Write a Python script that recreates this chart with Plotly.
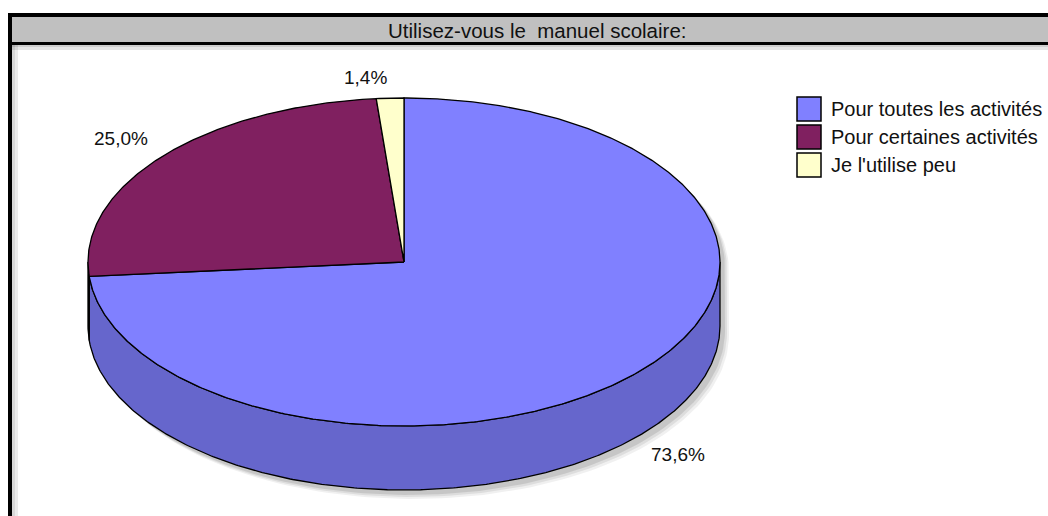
import numpy as np
import plotly.graph_objects as go

# ---- data ----
title_text = "Utilisez-vous le  manuel scolaire:"
categories = ["Pour toutes les activités", "Pour certaines activités", "Je l'utilise peu"]
values = [73.6, 25.0, 1.4]
labels = ["73,6%", "25,0%", "1,4%"]

# ---- style ----
top_colors = ["#8080FF", "#802060", "#FFFFCC"]
side_colors = ["#6666CC", "#661A4D", "#CCCCA3"]
W, H = 1048, 516
cx, cy, rx, ry, depth = 404, 262, 316, 164, 64
FONT = "Liberation Sans, Arial, sans-serif"

fig = go.Figure()


def pt(a_deg, dy=0.0):
    a = np.radians(a_deg)
    return cx + rx * np.cos(a), cy - ry * np.sin(a) + dy


fr = np.array(values) / sum(values)
cum = np.concatenate([[0], np.cumsum(fr)])
a0s = 90 - cum[:-1] * 360
a1s = 90 - cum[1:] * 360

# soft shadow
for off, op in [(9, 0.06), (7, 0.08), (5, 0.10)]:
    t = np.linspace(-180, 0, 120)
    xs, ys = pt(t, depth)
    tt = np.linspace(0, 180, 120)
    xt, yt = pt(tt)
    X = np.concatenate([xs, xt]) + off
    Y = np.concatenate([ys, yt]) + off
    fig.add_trace(go.Scatter(x=X, y=Y, fill="toself", mode="lines",
                             line=dict(width=0), fillcolor=f"rgba(0,0,0,{op})",
                             hoverinfo="skip", showlegend=False))

# side faces (front half: angles in [-180, 0] mod 360)
for i in range(len(values)):
    lo, hi = a1s[i], a0s[i]
    for k in range(-2, 2):
        s, e = max(lo, -180 + 360 * k), min(hi, 0 + 360 * k)
        if e - s <= 1e-6:
            continue
        t = np.linspace(s, e, max(int((e - s) * 2), 4))
        xt, yt = pt(t)
        xb, yb = pt(t[::-1], depth)
        X = np.concatenate([xt, xb, xt[:1]])
        Y = np.concatenate([yt, yb, yt[:1]])
        fig.add_trace(go.Scatter(x=X, y=Y, fill="toself", mode="lines",
                                 fillcolor=side_colors[i],
                                 line=dict(color="black", width=1.3),
                                 hoverinfo="skip", showlegend=False))

# top faces
for i in range(len(values)):
    t = np.linspace(a0s[i], a1s[i], max(int(abs(a0s[i] - a1s[i]) * 2), 4))
    xa, ya = pt(t)
    X = np.concatenate([[cx], xa, [cx]])
    Y = np.concatenate([[cy], ya, [cy]])
    fig.add_trace(go.Scatter(x=X, y=Y, fill="toself", mode="lines",
                             fillcolor=top_colors[i],
                             line=dict(color="black", width=1.3),
                             name=categories[i], hoverinfo="name", showlegend=False))

# percentage labels
for i in range(len(values)):
    am = (a0s[i] + a1s[i]) / 2
    c, s = np.cos(np.radians(am)), np.sin(np.radians(am))
    k = 1.05
    x = cx + rx * k * c
    y = cy - ry * k * s + (depth if s < 0 else 0)
    xa = "right" if c < -0.02 else ("left" if c > 0.02 else "center")
    ya = "bottom" if s > 0 else "top"
    fig.add_annotation(x=x, y=y, text=labels[i], showarrow=False,
                       xanchor=xa, yanchor=ya,
                       font=dict(family=FONT, size=19, color="#111111"))

# legend
lx, ly0, ldy = 809, 109, 28
for i, cat in enumerate(categories):
    fig.add_trace(go.Scatter(x=[lx], y=[ly0 + i * ldy], mode="markers",
                             marker=dict(symbol="square", size=24, color=top_colors[i],
                                         line=dict(color="black", width=1.5)),
                             hoverinfo="skip", showlegend=False))
    fig.add_annotation(x=829, y=ly0 + i * ldy, text=cat, showarrow=False,
                       xanchor="left", yanchor="middle",
                       font=dict(family=FONT, size=20, color="#111111"))

# frame & title bar
shapes = [
    dict(type="rect", x0=12, x1=W, y0=45, y1=50, fillcolor="rgba(0,0,0,0.10)", line=dict(width=0), layer="below"),
    dict(type="rect", x0=12, x1=W, y0=45, y1=47, fillcolor="rgba(0,0,0,0.10)", line=dict(width=0), layer="below"),
    dict(type="rect", x0=12, x1=18, y0=45, y1=H, fillcolor="rgba(0,0,0,0.08)", line=dict(width=0), layer="below"),
    dict(type="rect", x0=12, x1=15, y0=45, y1=H, fillcolor="rgba(0,0,0,0.08)", line=dict(width=0), layer="below"),
    dict(type="rect", x0=12, x1=W, y0=17, y1=42, fillcolor="#C0C0C0", line=dict(width=0), layer="above"),
    dict(type="rect", x0=8, x1=W, y0=13, y1=17, fillcolor="black", line=dict(width=0), layer="above"),
    dict(type="rect", x0=12, x1=W, y0=42, y1=45, fillcolor="black", line=dict(width=0), layer="above"),
    dict(type="rect", x0=8, x1=12, y0=13, y1=H, fillcolor="black", line=dict(width=0), layer="above"),
]
for sh in shapes:
    sh.update(xref="x", yref="y")
fig.update_layout(shapes=shapes)

fig.add_annotation(x=537, y=30, text=title_text, showarrow=False,
                   xanchor="center", yanchor="middle",
                   font=dict(family=FONT, size=20.5, color="#111111"))

fig.update_layout(
    width=W, height=H,
    margin=dict(l=0, r=0, t=0, b=0),
    paper_bgcolor="white", plot_bgcolor="white",
    xaxis=dict(range=[0, W], visible=False, fixedrange=True),
    yaxis=dict(range=[H, 0], visible=False, fixedrange=True),
    showlegend=False,
)

fig.write_html("out.html", config={"displayModeBar": False},
               post_script="document.body.style.margin='0';document.body.style.overflow='hidden';")
